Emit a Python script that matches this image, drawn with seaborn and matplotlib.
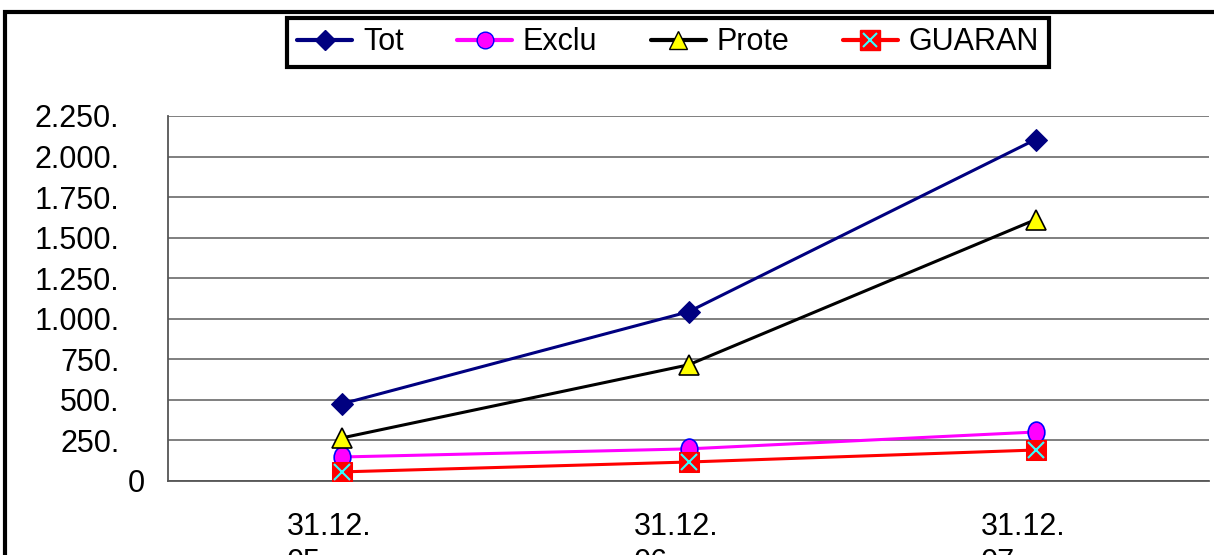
import matplotlib
matplotlib.use("Agg")
import matplotlib.pyplot as plt
import matplotlib.transforms as mtransforms
import seaborn as sns
import pandas as pd
import numpy as np
from matplotlib.lines import Line2D
from matplotlib.path import Path
from matplotlib.legend_handler import HandlerTuple
from matplotlib.patches import Rectangle

# ---------------------------
# Data
# ---------------------------
dates = ["31.12.\n05", "31.12.\n06", "31.12.\n07"]
tot = [475, 1043, 2105]
exclu = [148, 198, 302]
prote = [265, 716, 1611]
guaran = [56, 117, 191]
y_ticks = [0, 250, 500, 750, 1000, 1250, 1500, 1750, 2000, 2250]
y_labels = ["0", "250.", "500.", "750.", "1.000.", "1.250.", "1.500.", "1.750.", "2.000.", "2.250."]

df = pd.DataFrame({"pos": range(len(dates)), "Tot": tot, "Exclu": exclu,
                   "Prote": prote, "GUARAN": guaran})

sns.set_style("white")
plt.rcParams["font.family"] = ["Liberation Sans", "DejaVu Sans"]
plt.rcParams["text.color"] = "black"

# slightly tall ellipse marker for "Exclu"
circ = Path.unit_circle()
ellipse = Path(circ.vertices * np.array([0.8, 1.0]), circ.codes)

fig = plt.figure(figsize=(12.14, 5.55), dpi=100)
ax = fig.add_axes([168 / 1214, 74 / 555, 1041 / 1214, 365 / 555])

# ---------------------------
# Lines
# ---------------------------
sns.lineplot(data=df, x="pos", y="Tot", ax=ax, color="#000080", lw=2.2,
             marker="D", markersize=11, markerfacecolor="#000080",
             markeredgecolor="#000080", zorder=5)
sns.lineplot(data=df, x="pos", y="Exclu", ax=ax, color="#ff00ff", lw=2.2,
             marker=ellipse, markersize=15, markerfacecolor="#ff00ff",
             markeredgecolor="#0000ff", markeredgewidth=1.2, zorder=4)
sns.lineplot(data=df, x="pos", y="Prote", ax=ax, color="black", lw=2.2,
             marker="^", markersize=15, markerfacecolor="#ffff00",
             markeredgecolor="black", markeredgewidth=1.2, zorder=5)
sns.lineplot(data=df, x="pos", y="GUARAN", ax=ax, color="#ff0000", lw=2.2,
             marker="s", markersize=15, markerfacecolor="#ff0000",
             markeredgecolor="#ff0000", zorder=6)
ax.plot(df["pos"], df["GUARAN"], ls="none", marker="x", markersize=11,
        markeredgecolor="#33ffff", markeredgewidth=1.5, zorder=7)

# ---------------------------
# Axes styling
# ---------------------------
ax.set_xlim(-0.5, 2.5)
ax.set_ylim(0, 2250)
ax.set_yticks(y_ticks)
ax.set_yticklabels(y_labels, fontsize=22)
ax.set_xticks([-0.5, 0.5, 1.5, 2.5])
ax.set_xticklabels([])
ax.set_xticks(range(len(dates)), minor=True)
ax.set_xticklabels(dates, minor=True, fontsize=22, va="top",
                   multialignment="left", linespacing=1.3)
ax.tick_params(axis="x", which="minor", length=0, pad=22, labelcolor="black")
ax.tick_params(axis="x", which="major", direction="out", length=8, width=1, color="#555555")
ax.tick_params(axis="y", direction="inout", length=12, width=1, color="#555555",
               pad=29, labelcolor="black")
ax.yaxis.grid(True, color="#7f7f7f", lw=1.4)
ax.set_axisbelow(True)
for s in ["top", "right"]:
    ax.spines[s].set_visible(False)
for s in ["left", "bottom"]:
    ax.spines[s].set_color("#555555")
    ax.spines[s].set_linewidth(1.3)
ax.set_xlabel("")
ax.set_ylabel("")

# small label shifts as in the reference
shift_x = mtransforms.ScaledTranslation(-12 / 100, 0, fig.dpi_scale_trans)
for lab in ax.get_xticklabels(minor=True):
    lab.set_transform(lab.get_transform() + shift_x)
zero_lab = ax.get_yticklabels()[0]
zero_lab.set_transform(zero_lab.get_transform()
                       + mtransforms.ScaledTranslation(25 / 100, 0, fig.dpi_scale_trans))

# ---------------------------
# Legend
# ---------------------------
h_tot = Line2D([], [], color="#000080", lw=3, marker="D", markersize=10)
h_exc = Line2D([], [], color="#ff00ff", lw=3, marker="o", markersize=12,
               markerfacecolor="#ff00ff", markeredgecolor="#0000ff")
h_pro = Line2D([], [], color="black", lw=3, marker="^", markersize=13,
               markerfacecolor="#ffff00", markeredgecolor="black")
h_gsq = Line2D([], [], color="#ff0000", lw=3, marker="s", markersize=14,
               markerfacecolor="#ff0000", markeredgecolor="#ff0000")
h_gx = Line2D([], [], ls="none", marker="x", markersize=10,
              markeredgecolor="#33ffff", markeredgewidth=1.5)
leg = fig.legend([h_tot, h_exc, h_pro, (h_gsq, h_gx)],
                 ["Tot", "Exclu", "Prote", "GUARAN"],
                 handler_map={tuple: HandlerTuple(ndivide=1)},
                 loc="center", bbox_to_anchor=(668 / 1214, 1 - 42.5 / 555),
                 ncol=4, fontsize=22, frameon=True, fancybox=False,
                 shadow=False, framealpha=1, handlelength=1.8, handletextpad=0.35,
                 columnspacing=1.75, borderpad=0.32, borderaxespad=0)
leg.get_frame().set_edgecolor("black")
leg.get_frame().set_linewidth(3)
for t in leg.get_texts():
    t.set_color("black")

# outer chart frame (cut off at right and bottom)
fig.patches.append(Rectangle((5 / 1214, -0.1), 1.2, 1 - 12 / 555 + 0.1,
                             transform=fig.transFigure, fill=False,
                             edgecolor="black", lw=3))

fig.savefig("out.png", dpi=100)
